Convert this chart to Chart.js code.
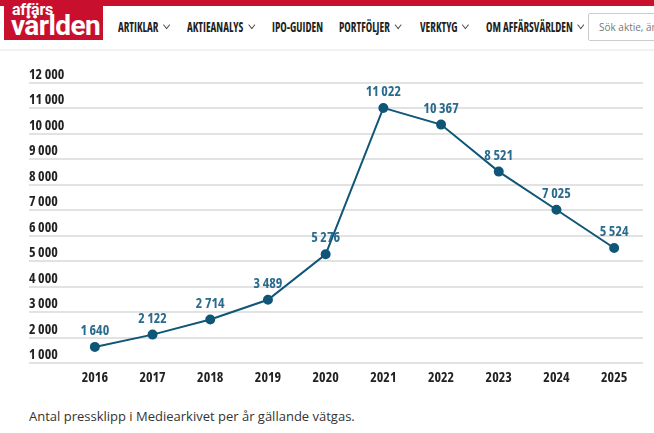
<!DOCTYPE html>
<html lang="sv">
<head>
<meta charset="utf-8">
<title>Vätgas i media</title>
<script src="https://cdn.jsdelivr.net/npm/chart.js@4/dist/chart.umd.min.js"></script>
<style>
  html, body { margin: 0; padding: 0; background: #fff; }
  body { width: 654px; height: 433px; position: relative; overflow: hidden; font-family: "Open Sans", sans-serif; }
  .topbar { position: absolute; left: 0; top: 0; width: 654px; height: 6px; background: #c8102e; }
  .logo { position: absolute; left: 4px; top: 0; width: 99px; height: 40px; background: #c8102e; color: #fff; font-family: Roboto, sans-serif; font-weight: 700; }
  .logo .a { position: absolute; left: 8px; top: 1px; font-size: 16px; letter-spacing: -0.3px; line-height: 17px; }
  .logo .b { position: absolute; left: 7px; top: 12px; font-size: 28px; letter-spacing: -0.6px; line-height: 28px; }
  .nav { position: absolute; top: 19px; font-weight: 700; font-stretch: condensed; font-size: 13.5px; color: #1e1e1e; white-space: nowrap; line-height: 16px; transform: scaleX(0.81); transform-origin: 0 0; }
  .chev { display: inline-block; width: 5px; height: 5px; border-right: 1.4px solid #444; border-bottom: 1.4px solid #444; transform: rotate(45deg); margin-left: 7px; position: relative; top: -4px; }
  .search { position: absolute; left: 588px; top: 13px; width: 80px; height: 28px; border: 1px solid #ccc; border-radius: 2px; box-sizing: border-box; font-size: 10px; color: #777; padding: 6px 0 0 10px; white-space: nowrap; overflow: hidden; }
  .hline { position: absolute; left: 0; top: 49px; width: 654px; height: 2px; background: #f2f2f2; }
  #wrap { position: absolute; left: 0; top: 55px; width: 654px; height: 340px; }
  .caption { position: absolute; left: 29px; top: 407px; font-size: 13px; color: #333; white-space: nowrap; }
</style>
</head>
<body>
<div class="topbar"></div>
<div class="logo"><span class="a">affärs</span><span class="b">världen</span></div>
<div class="nav" style="left:118px">ARTIKLAR<span class="chev"></span></div>
<div class="nav" style="left:187px">AKTIEANALYS<span class="chev"></span></div>
<div class="nav" style="left:272px">IPO-GUIDEN</div>
<div class="nav" style="left:339px">PORTFÖLJER<span class="chev"></span></div>
<div class="nav" style="left:420px">VERKTYG<span class="chev"></span></div>
<div class="nav" style="left:486px">OM AFFÄRSVÄRLDEN<span class="chev"></span></div>
<div class="search">Sök aktie, ämne</div>
<div class="hline"></div>
<div id="wrap"><canvas id="myChart"></canvas></div>
<div class="caption">Antal pressklipp i Mediearkivet per år gällande vätgas.</div>

<script>
const years = ['2016', '2017', '2018', '2019', '2020', '2021', '2022', '2023', '2024', '2025'];
const clips = [1640, 2122, 2714, 3489, 5276, 11022, 10367, 8521, 7025, 5524];
const yMin = 1000;
const yMax = 12000;
const yStep = 1000;

const lineColor = '#0f5677';
const labelColor = '#2a6b8d';
const condFamily = '"Open Sans", sans-serif';
// chart.js only checks style, so the stretch goes with the weight
const condWeight = 'condensed bold';

function spaced(v) {
    return String(v).replace(/\B(?=(\d{3})+(?!\d))/g, ' ');
}

// values above the points
const valueLabels = {
    id: 'valueLabels',
    afterDatasetsDraw(chart) {
        const { ctx } = chart;
        const meta = chart.getDatasetMeta(0);
        ctx.save();
        ctx.font = condWeight + ' 14px ' + condFamily;
        ctx.fillStyle = labelColor;
        ctx.textAlign = 'center';
        ctx.textBaseline = 'middle';
        meta.data.forEach((pt, i) => {
            ctx.fillText(spaced(clips[i]), pt.x, pt.y - 16);
        });
        ctx.restore();
    }
};

const ctx = document.getElementById('myChart').getContext('2d');
new Chart(ctx, {
    type: 'line',
    data: {
        labels: years,
        datasets: [{
            data: clips,
            borderColor: lineColor,
            backgroundColor: lineColor,
            borderWidth: 2,
            pointRadius: 4,
            pointHoverRadius: 4,
            tension: 0
        }]
    },
    options: {
        responsive: true,
        maintainAspectRatio: false,
        animation: false,
        layout: { padding: { left: 29, right: 11, top: 28, bottom: 3 } },
        plugins: {
            legend: { display: false },
            tooltip: { enabled: false }
        },
        scales: {
            x: {
                offset: true,
                grid: { display: false, drawTicks: false },
                border: { display: false },
                ticks: {
                    color: '#222',
                    padding: 6,
                    font: { family: condFamily, size: 14, weight: condWeight }
                }
            },
            y: {
                min: yMin,
                max: yMax,
                afterFit: (scale) => { scale.width = 37; },
                grid: { color: '#e2e2e2', lineWidth: 2, drawTicks: true, tickLength: 37 },
                border: { display: false },
                ticks: {
                    stepSize: yStep,
                    color: '#222',
                    padding: 0,
                    crossAlign: 'far',
                    labelOffset: -8,
                    font: { family: condFamily, size: 14, weight: condWeight },
                    callback: (v) => spaced(v)
                }
            }
        }
    },
    plugins: [valueLabels]
});
</script>
</body>
</html>
